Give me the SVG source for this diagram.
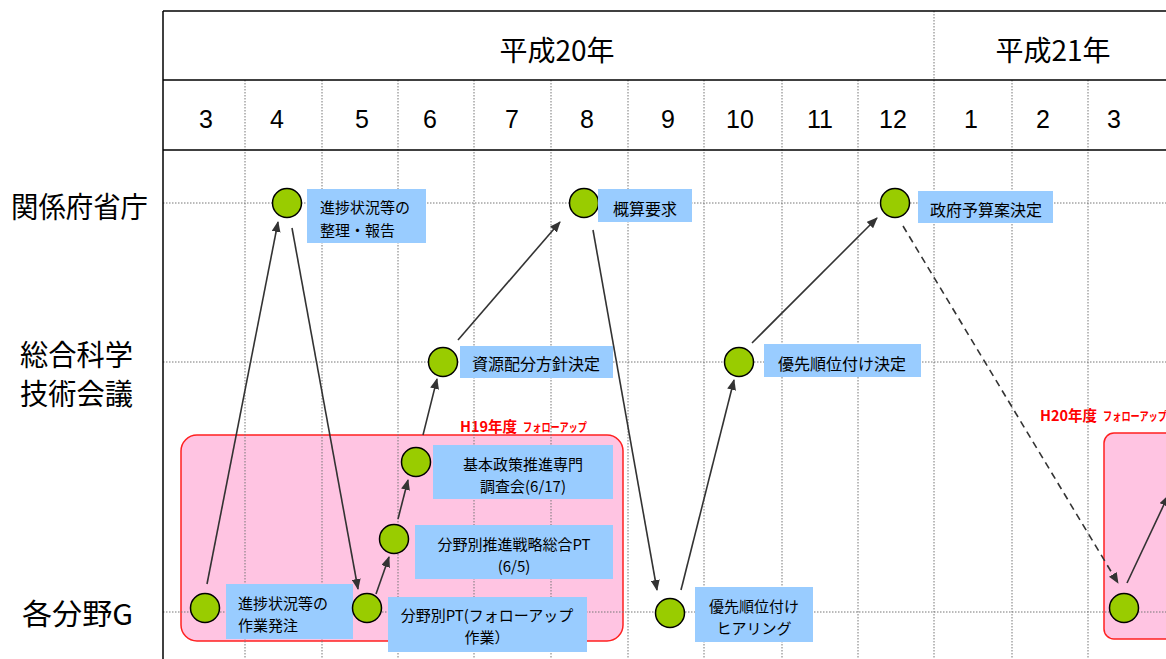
<svg xmlns="http://www.w3.org/2000/svg" width="1166" height="659" viewBox="0 0 1166 659">
<defs>
<marker id="ah" markerUnits="userSpaceOnUse" markerWidth="11" markerHeight="9" refX="10" refY="4.5" orient="auto">
<path d="M0,0 L11,4.5 L0,9 z" fill="#333"/>
</marker>
<style>
.grid{stroke:#777;stroke-width:1;stroke-dasharray:1.5,1.5;fill:none}
.frame{stroke:#000;stroke-width:1.5;fill:none}
.pink{fill:#ffc4e2;stroke:#ff2020;stroke-width:1.5}
.box{fill:#99ccff}
.dot{fill:#99cc00;stroke:#000;stroke-width:1.5}
.con{stroke:#333;stroke-width:1.6;fill:none;marker-end:url(#ah)}
.dash{stroke-dasharray:7,5}
.jp{font-family:"Noto Sans CJK JP","Noto Sans",sans-serif;fill:#000}
.lbl{font-size:16px}
.lbl2{font-size:15px}
.row{font-size:29px}
.yr{font-size:28px}
.mo{font-family:"Liberation Sans",Arial,sans-serif;font-size:25px;text-anchor:middle;fill:#000}
.red{font-family:"Noto Sans CJK JP",sans-serif;font-weight:bold;fill:#ff0000}
.mid{text-anchor:middle}
</style>
</defs>
<rect x="0" y="0" width="1166" height="659" fill="#fff"/>

<g id="followup-h19">
<rect class="pink" x="181" y="435" width="442" height="206" rx="16"/>
<text class="red" x="460" y="432" font-size="14.5">H19年度</text>
<text class="red" x="523" y="432" font-size="12" textLength="64" lengthAdjust="spacingAndGlyphs">フォローアップ</text>
</g>
<g id="followup-h20">
<rect class="pink" x="1104" y="433" width="80" height="206" rx="10"/>
<text class="red" x="1040" y="421" font-size="14.5">H20年度</text>
<text class="red" x="1103" y="421" font-size="12" textLength="64" lengthAdjust="spacingAndGlyphs">フォローアップ</text>
</g>

<g id="grid">
<line class="grid" x1="245" y1="80" x2="245" y2="659"/>
<line class="grid" x1="322" y1="80" x2="322" y2="659"/>
<line class="grid" x1="398" y1="80" x2="398" y2="659"/>
<line class="grid" x1="474" y1="80" x2="474" y2="659"/>
<line class="grid" x1="551" y1="80" x2="551" y2="659"/>
<line class="grid" x1="628" y1="80" x2="628" y2="659"/>
<line class="grid" x1="704" y1="80" x2="704" y2="659"/>
<line class="grid" x1="782" y1="80" x2="782" y2="659"/>
<line class="grid" x1="858" y1="80" x2="858" y2="659"/>
<line class="grid" x1="934" y1="11" x2="934" y2="659"/>
<line class="grid" x1="1012" y1="80" x2="1012" y2="659"/>
<line class="grid" x1="1088" y1="80" x2="1088" y2="659"/>
<line class="grid" x1="163" y1="203" x2="1166" y2="203"/>
<line class="grid" x1="163" y1="362" x2="1166" y2="362"/>
<line class="grid" x1="163" y1="612" x2="1166" y2="612"/>
</g>

<g id="frame">
<line class="frame" x1="163" y1="11" x2="1166" y2="11"/>
<line class="frame" x1="163" y1="80" x2="1166" y2="80"/>
<line class="frame" x1="163" y1="150" x2="1166" y2="150"/>
<line class="frame" x1="163" y1="11" x2="163" y2="659"/>
</g>

<g id="header">
<text class="jp yr mid" x="557" y="61">平成20年</text>
<text class="jp yr mid" x="1053" y="61">平成21年</text>
<text class="mo" x="206" y="128">3</text>
<text class="mo" x="277" y="128">4</text>
<text class="mo" x="362" y="128">5</text>
<text class="mo" x="430" y="128">6</text>
<text class="mo" x="512" y="128">7</text>
<text class="mo" x="587" y="128">8</text>
<text class="mo" x="668" y="128">9</text>
<text class="mo" x="740" y="128">10</text>
<text class="mo" x="820" y="128">11</text>
<text class="mo" x="893" y="128">12</text>
<text class="mo" x="971" y="128">1</text>
<text class="mo" x="1043" y="128">2</text>
<text class="mo" x="1114" y="128">3</text>
</g>

<g id="rows">
<text class="jp row" x="11" y="218" textLength="137" lengthAdjust="spacingAndGlyphs">関係府省庁</text>
<text class="jp row" x="20" y="366" textLength="113" lengthAdjust="spacingAndGlyphs">総合科学</text>
<text class="jp row" x="20" y="405" textLength="113" lengthAdjust="spacingAndGlyphs">技術会議</text>
<text class="jp row" x="22" y="625" textLength="111" lengthAdjust="spacingAndGlyphs">各分野G</text>
</g>

<g id="connectors">
<line class="con" x1="207" y1="584" x2="278" y2="222"/>
<line class="con" x1="292" y1="228" x2="358" y2="589"/>
<line class="con" x1="376" y1="594" x2="389" y2="557"/>
<line class="con" x1="398" y1="519" x2="408" y2="480"/>
<line class="con" x1="423" y1="435" x2="437" y2="379"/>
<line class="con" x1="458" y1="340" x2="560" y2="222"/>
<line class="con" x1="593" y1="230" x2="657" y2="590"/>
<line class="con" x1="681" y1="590" x2="734" y2="380"/>
<line class="con" x1="752" y1="343" x2="877" y2="218"/>
<line class="con dash" x1="903" y1="226" x2="1118" y2="583"/>
<line class="con" x1="1127" y1="583" x2="1168" y2="496"/>
</g>

<g id="n-kankei-4">
<circle class="dot" cx="287" cy="203" r="14.5"/>
<rect class="box" x="307" y="189" width="119" height="54"/>
<text class="jp lbl2" x="320" y="213">進捗状況等の</text>
<text class="jp lbl2" x="320" y="236">整理・報告</text>
</g>
<g id="n-kankei-8">
<circle class="dot" cx="584" cy="203" r="14.5"/>
<rect class="box" x="598" y="189" width="94" height="33"/>
<text class="jp lbl mid" x="645" y="215">概算要求</text>
</g>
<g id="n-kankei-12">
<circle class="dot" cx="895" cy="203" r="14.5"/>
<rect class="box" x="918" y="191" width="135" height="32"/>
<text class="jp lbl mid" x="986" y="216">政府予算案決定</text>
</g>
<g id="n-csti-6">
<circle class="dot" cx="443" cy="362" r="14.5"/>
<rect class="box" x="460" y="346" width="153" height="32"/>
<text class="jp lbl mid" x="536" y="370">資源配分方針決定</text>
</g>
<g id="n-csti-10">
<circle class="dot" cx="739" cy="362" r="14.5"/>
<rect class="box" x="764" y="344" width="157" height="33"/>
<text class="jp lbl mid" x="842" y="370">優先順位付け決定</text>
</g>
<g id="n-kihon">
<circle class="dot" cx="416" cy="462" r="14.5"/>
<rect class="box" x="433" y="445" width="180" height="54"/>
<text class="jp lbl2 mid" x="523" y="470">基本政策推進専門</text>
<text class="jp lbl2 mid" x="523" y="492">調査会(6/17)</text>
</g>
<g id="n-senryaku">
<circle class="dot" cx="394" cy="539" r="14.5"/>
<rect class="box" x="415" y="525" width="198" height="54"/>
<text class="jp lbl2 mid" x="514" y="550">分野別推進戦略総合PT</text>
<text class="jp lbl2 mid" x="514" y="572">(6/5)</text>
</g>
<g id="n-bunya-3">
<circle class="dot" cx="205" cy="608" r="14.5"/>
<rect class="box" x="226" y="584" width="127" height="55"/>
<text class="jp lbl2" x="238" y="609">進捗状況等の</text>
<text class="jp lbl2" x="238" y="631">作業発注</text>
</g>
<g id="n-bunya-5">
<circle class="dot" cx="367" cy="608" r="14.5"/>
<rect class="box" x="388" y="597" width="199" height="55"/>
<text class="jp lbl2 mid" x="487" y="621">分野別PT(フォローアップ</text>
<text class="jp lbl2 mid" x="487" y="643">作業）</text>
</g>
<g id="n-bunya-9">
<circle class="dot" cx="670" cy="613" r="14.5"/>
<rect class="box" x="695" y="587" width="118" height="55"/>
<text class="jp lbl2 mid" x="754" y="612">優先順位付け</text>
<text class="jp lbl2 mid" x="754" y="634">ヒアリング</text>
</g>
<g id="n-bunya-3b">
<circle class="dot" cx="1124" cy="608" r="14.5"/>
</g>
</svg>
